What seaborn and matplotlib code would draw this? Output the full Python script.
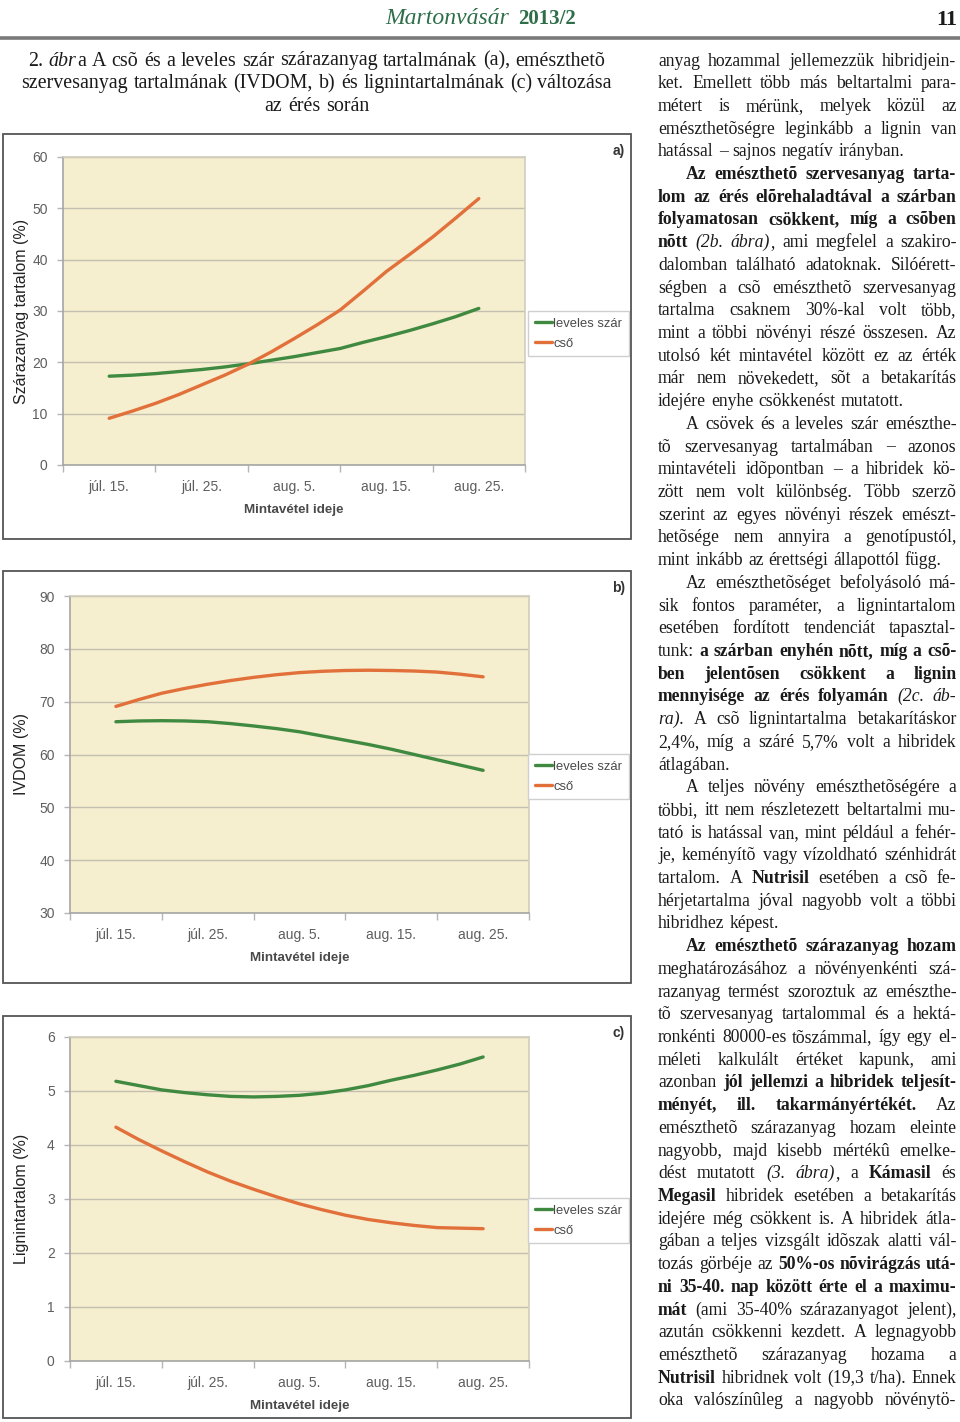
import matplotlib
matplotlib.use("Agg")
import matplotlib.pyplot as plt
from matplotlib.patches import Rectangle
from matplotlib.lines import Line2D
import pandas as pd
import seaborn as sns

# -----------------------------
# DATA
# -----------------------------
DATES = ["júl. 15.", "júl. 25.", "aug. 5.", "aug. 15.", "aug. 25."]
SERIES = ["leveles szár", "cső"]
# trend curves read at each sampling date and at quarter steps between them
POS = [0, 0.25, 0.5, 0.75, 1, 1.25, 1.5, 1.75, 2,
       2.25, 2.5, 2.75, 3, 3.25, 3.5, 3.75, 4]

DM_SZAR = [17.3, 17.5, 17.8, 18.2, 18.6, 19.1, 19.7, 20.4, 21.1,
           21.9, 22.7, 23.9, 25.0, 26.2, 27.5, 28.9, 30.5]
DM_CSO = [9.1, 10.5, 12.0, 13.7, 15.6, 17.5, 19.6, 22.0, 24.6,
          27.3, 30.2, 33.9, 37.7, 41.0, 44.4, 48.1, 51.9]

IVDOM_SZAR = [66.2, 66.35, 66.4, 66.35, 66.2, 65.85, 65.4, 64.9, 64.3,
              63.5, 62.7, 61.9, 61.0, 60.0, 59.0, 58.0, 57.0]
IVDOM_CSO = [69.1, 70.4, 71.6, 72.5, 73.3, 74.0, 74.6, 75.1, 75.5,
             75.75, 75.9, 75.95, 75.9, 75.8, 75.6, 75.2, 74.7]

LIGNIN_SZAR = [5.18, 5.10, 5.02, 4.97, 4.93, 4.90, 4.89, 4.90, 4.92,
               4.96, 5.02, 5.10, 5.20, 5.29, 5.39, 5.50, 5.63]
LIGNIN_CSO = [4.33, 4.10, 3.89, 3.69, 3.50, 3.33, 3.18, 3.04, 2.91,
              2.80, 2.70, 2.62, 2.56, 2.51, 2.47, 2.46, 2.45]

CAPTION = [
    [("2. ", "R"), ("ábr", "I"),
     ("a A csõ és a leveles szár szárazanyag tartalmának (a), emészthetõ", "R")],
    [("szervesanyag tartalmának (IVDOM, b) és lignintartalmának (c) változása", "R")],
    [("az érés során", "R")],
]

# (indent, justified, segments)
BODY = [
    (0, 1, [("anyag hozammal jellemezzük hibridjein-", "R")]),
    (0, 1, [("ket. Emellett több más beltartalmi para-", "R")]),
    (0, 1, [("métert is mérünk, melyek közül az", "R")]),
    (0, 1, [("emészthetõségre leginkább a lignin van", "R")]),
    (0, 0, [("hatással – sajnos negatív irányban.", "R")]),
    (1, 1, [("Az emészthetõ szervesanyag tarta-", "B")]),
    (0, 1, [("lom az érés elõrehaladtával a szárban", "B")]),
    (0, 1, [("folyamatosan csökkent, míg a csõben", "B")]),
    (0, 1, [("nõtt ", "B"), ("(2b. ábra)", "I"), (", ami megfelel a szakiro-", "R")]),
    (0, 1, [("dalomban található adatoknak. Silóérett-", "R")]),
    (0, 1, [("ségben a csõ emészthetõ szervesanyag", "R")]),
    (0, 1, [("tartalma csaknem 30%-kal volt több,", "R")]),
    (0, 1, [("mint a többi növényi részé összesen. Az", "R")]),
    (0, 1, [("utolsó két mintavétel között ez az érték", "R")]),
    (0, 1, [("már nem növekedett, sõt a betakarítás", "R")]),
    (0, 0, [("idejére enyhe csökkenést mutatott.", "R")]),
    (1, 1, [("A csövek és a leveles szár emészthe-", "R")]),
    (0, 1, [("tõ szervesanyag tartalmában – azonos", "R")]),
    (0, 1, [("mintavételi idõpontban – a hibridek kö-", "R")]),
    (0, 1, [("zött nem volt különbség. Több szerzõ", "R")]),
    (0, 1, [("szerint az egyes növényi részek emészt-", "R")]),
    (0, 1, [("hetõsége nem annyira a genotípustól,", "R")]),
    (0, 0, [("mint inkább az érettségi állapottól függ.", "R")]),
    (1, 1, [("Az emészthetõséget befolyásoló má-", "R")]),
    (0, 1, [("sik fontos paraméter, a lignintartalom", "R")]),
    (0, 1, [("esetében fordított tendenciát tapasztal-", "R")]),
    (0, 1, [("tunk: ", "R"), ("a szárban enyhén nõtt, míg a csõ-", "B")]),
    (0, 1, [("ben jelentõsen csökkent a lignin", "B")]),
    (0, 1, [("mennyisége az érés folyamán ", "B"), ("(2c. áb-", "I")]),
    (0, 1, [("ra).", "I"), (" A csõ lignintartalma betakarításkor", "R")]),
    (0, 1, [("2,4%, míg a száré 5,7% volt a hibridek", "R")]),
    (0, 0, [("átlagában.", "R")]),
    (1, 1, [("A teljes növény emészthetõségére a", "R")]),
    (0, 1, [("többi, itt nem részletezett beltartalmi mu-", "R")]),
    (0, 1, [("tató is hatással van, mint például a fehér-", "R")]),
    (0, 1, [("je, keményítõ vagy vízoldható szénhidrát", "R")]),
    (0, 1, [("tartalom. A ", "R"), ("Nutrisil", "B"), (" esetében a csõ fe-", "R")]),
    (0, 1, [("hérjetartalma jóval nagyobb volt a többi", "R")]),
    (0, 0, [("hibridhez képest.", "R")]),
    (1, 1, [("Az emészthetõ szárazanyag hozam", "B")]),
    (0, 1, [("meghatározásához a növényenkénti szá-", "R")]),
    (0, 1, [("razanyag termést szoroztuk az emészthe-", "R")]),
    (0, 1, [("tõ szervesanyag tartalommal és a hektá-", "R")]),
    (0, 1, [("ronkénti 80000-es tõszámmal, így egy el-", "R")]),
    (0, 1, [("méleti kalkulált értéket kapunk, ami", "R")]),
    (0, 1, [("azonban ", "R"), ("jól jellemzi a hibridek teljesít-", "B")]),
    (0, 1, [("ményét, ill. takarmányértékét.", "B"), (" Az", "R")]),
    (0, 1, [("emészthetõ szárazanyag hozam eleinte", "R")]),
    (0, 1, [("nagyobb, majd kisebb mértékû emelke-", "R")]),
    (0, 1, [("dést mutatott ", "R"), ("(3. ábra)", "I"), (", a ", "R"),
            ("Kámasil", "B"), (" és", "R")]),
    (0, 1, [("Megasil", "B"), (" hibridek esetében a betakarítás", "R")]),
    (0, 1, [("idejére még csökkent is. A hibridek átla-", "R")]),
    (0, 1, [("gában a teljes vizsgált idõszak alatti vál-", "R")]),
    (0, 1, [("tozás görbéje az ", "R"), ("50%-os nõvirágzás utá-", "B")]),
    (0, 1, [("ni 35-40. nap között érte el a maximu-", "B")]),
    (0, 1, [("mát", "B"), (" (ami 35-40% szárazanyagot jelent),", "R")]),
    (0, 1, [("azután csökkenni kezdett. A legnagyobb", "R")]),
    (0, 1, [("emészthetõ szárazanyag hozama a", "R")]),
    (0, 1, [("Nutrisil", "B"), (" hibridnek volt (19,3 t/ha). Ennek", "R")]),
    (0, 1, [("oka valószínûleg a nagyobb növénytö-", "R")]),
]

# -----------------------------
# STYLE
# -----------------------------
sns.set_theme(style="ticks")
plt.rcParams["font.family"] = ["Liberation Sans", "DejaVu Sans"]

W, H = 960, 1422
GREEN = "#3f8a40"
ORANGE = "#e2703a"
BEIGE = "#f5eecf"
GRID = "#c4c0b0"
TICKC = "#5e5e5e"
SERIF = ["Liberation Serif", "DejaVu Serif"]
SANS = ["Liberation Sans", "DejaVu Sans"]
LINE_H = 22.71
FIRST_BASE = 65.5
COL_X0, COL_X1 = 658, 957

fig = plt.figure(figsize=(9.6, 14.22), dpi=100, facecolor="white")
renderer = fig.canvas.get_renderer()

STYLES = {"R": ("normal", "normal"), "B": ("bold", "normal"), "I": ("normal", "italic")}


def fx(x):
    return x / W


def fy(y):
    return 1 - y / H


# -----------------------------
# TEXT HELPERS
# -----------------------------
def split_words(segs):
    words = [[]]
    for txt, st in segs:
        parts = txt.split(" ")
        for i, p in enumerate(parts):
            if i > 0:
                words.append([])
            if p:
                words[-1].append((p, st))
    return [w for w in words if w]


def make_words(segs, base, size):
    placed = []
    for w in split_words(segs):
        items = []
        for piece, st in w:
            weight, style = STYLES[st]
            t = fig.text(0, fy(base), piece, fontsize=size, family=SERIF,
                         fontweight=weight, fontstyle=style, color="#1a1a1a",
                         ha="left", va="baseline")
            items.append((t, t.get_window_extent(renderer).width))
        placed.append(items)
    return placed


def natural_width(segs, size):
    placed = make_words(segs, 0, size)
    total = sum(wd + 0.6 for items in placed for _, wd in items)
    total += 0.25 * size * 100 / 72 * (len(placed) - 1)
    for items in placed:
        for t, _ in items:
            t.remove()
    return total


def set_line(segs, base, x0, x1, mode, size):
    placed = make_words(segs, base, size)
    widths = [sum(wd + 0.6 for _, wd in items) for items in placed]
    space = 0.25 * size * 100 / 72
    total = sum(widths)
    if mode == "J" and len(placed) > 1:
        gap = (x1 - x0 - total) / (len(placed) - 1)
        start = x0
    elif mode == "C":
        gap = space
        start = (x0 + x1) / 2 - (total + gap * (len(placed) - 1)) / 2
    else:
        gap = space
        start = x0
    x = start
    for items in placed:
        for t, wd in items:
            t.set_x(fx(x))
            x += wd + 0.6
        x += gap


# body size: largest size at which every justified line still fits the column
ref = 12.0
fit = min((COL_X1 - COL_X0 - 28 * ind) / natural_width(segs, ref)
          for ind, just, segs in BODY if just)
BODY_SIZE = ref * fit * 0.995

# -----------------------------
# HEADER + CAPTION + BODY
# -----------------------------
fig.text(fx(385), fy(24), "Martonvásár", fontsize=17, family=SERIF,
         fontstyle="italic", color="#2e6e49", ha="left", va="baseline")
fig.text(fx(518), fy(24), "2013/2", fontsize=15, family=SERIF,
         fontweight="bold", color="#2e6e49", ha="left", va="baseline")
fig.text(fx(957), fy(25), "11", fontsize=16, family=SERIF, fontweight="bold",
         color="#1a1a1a", ha="right", va="baseline")
fig.add_artist(Line2D([0, 1], [fy(37.5), fy(37.5)], transform=fig.transFigure,
                      color="#7a7a7a", lw=2.6))

for k, segs in enumerate(CAPTION):
    set_line(segs, FIRST_BASE + k * LINE_H, 10, 624, "C", size=14.4)

for k, (indent, just, segs) in enumerate(BODY):
    set_line(segs, FIRST_BASE + k * LINE_H, COL_X0 + 28 * indent, COL_X1,
             "J" if just else "L", BODY_SIZE)


# -----------------------------
# CHART PANELS
# -----------------------------
def draw_panel(frame, box, szar, cso, ylim, ystep, ylabel, tag, leg_top):
    x0, y0, x1, y1 = frame
    fig.add_artist(Rectangle((fx(x0), fy(y1)), (x1 - x0) / W, (y1 - y0) / H,
                             transform=fig.transFigure, fill=False,
                             edgecolor="#555555", lw=1.3))
    bx0, by0, bx1, by1 = box
    ax = fig.add_axes([fx(bx0), fy(by1), (bx1 - bx0) / W, (by1 - by0) / H])

    df = pd.DataFrame({
        "pos": POS * 2,
        "val": szar + cso,
        "rész": [SERIES[0]] * len(POS) + [SERIES[1]] * len(POS),
    })
    sns.lineplot(data=df, x="pos", y="val", hue="rész", hue_order=SERIES,
                 palette=[GREEN, ORANGE], linewidth=2.4, legend=False, ax=ax)

    ax.set_facecolor(BEIGE)
    ax.set_xlim(-0.5, 4.5)
    ax.set_ylim(*ylim)
    ax.set_yticks(list(range(ylim[0], ylim[1] + 1, ystep)))
    ax.yaxis.grid(True, color=GRID, lw=1)
    ax.set_axisbelow(True)

    ax.set_xticks(range(len(DATES)))
    ax.set_xticklabels(DATES)
    ax.set_xticks([i - 0.5 for i in range(len(DATES) + 1)], minor=True)
    ax.tick_params(axis="x", which="major", length=0, pad=11)
    ax.tick_params(axis="x", which="minor", length=5, width=1, color="#b5b5b5")
    ax.tick_params(axis="y", length=4, width=1, color="#b5b5b5", pad=7)
    for lab in ax.get_xticklabels() + ax.get_yticklabels():
        lab.set_family(SANS)
        lab.set_fontsize(10)
        lab.set_color(TICKC)

    for side in ["left", "bottom"]:
        ax.spines[side].set_color("#a5a5a5")
        ax.spines[side].set_linewidth(1.2)
    for side in ["top", "right"]:
        ax.spines[side].set_visible(True)
        ax.spines[side].set_color("#d2cdbc")
        ax.spines[side].set_linewidth(1.2)

    ax.set_xlabel("Mintavétel ideje", family=SANS, fontweight="bold",
                  fontsize=9.6, color="#4a4a4a")
    ax.xaxis.label.set_va("center")
    ax.xaxis.set_label_coords(0.5, -45 / (by1 - by0))
    ax.set_ylabel(ylabel, fontsize=11.5, color="#222222")
    ax.yaxis.label.set_va("center")
    ax.yaxis.set_label_coords((22 - bx0) / (bx1 - bx0), 0.5)

    handles = [Line2D([], [], color=GREEN, lw=2.4), Line2D([], [], color=ORANGE, lw=2.4)]
    leg = ax.legend(handles, SERIES, loc="upper left",
                    bbox_to_anchor=(fx(528), fy(leg_top)),
                    bbox_transform=fig.transFigure, frameon=True, fancybox=False,
                    edgecolor="#cfcfcf", facecolor="white", framealpha=1,
                    handlelength=1.35, handletextpad=0.1, borderpad=0.5,
                    labelspacing=0.62, borderaxespad=0,
                    prop={"family": SANS, "size": 9.4})
    leg.get_frame().set_linewidth(1)
    for txt in leg.get_texts():
        txt.set_color("#4a4a4a")

    fig.text(fx(619), fy(y0 + 17), tag, family=SANS, fontweight="bold",
             fontsize=10, color="#333333", ha="center", va="center")
    return ax


draw_panel((3, 134, 631, 539), (63, 157, 525, 465), DM_SZAR, DM_CSO,
           (0, 60), 10, "Szárazanyag tartalom (%)", "a)", 311)
draw_panel((3, 571, 631, 983), (70, 596, 529, 913), IVDOM_SZAR, IVDOM_CSO,
           (30, 90), 10, "IVDOM (%)", "b)", 754)
draw_panel((3, 1016, 631, 1418), (70, 1037, 529, 1361), LIGNIN_SZAR, LIGNIN_CSO,
           (0, 6), 1, "Lignintartalom (%)", "c)", 1198)

fig.savefig("out.png", dpi=100, facecolor="white")
